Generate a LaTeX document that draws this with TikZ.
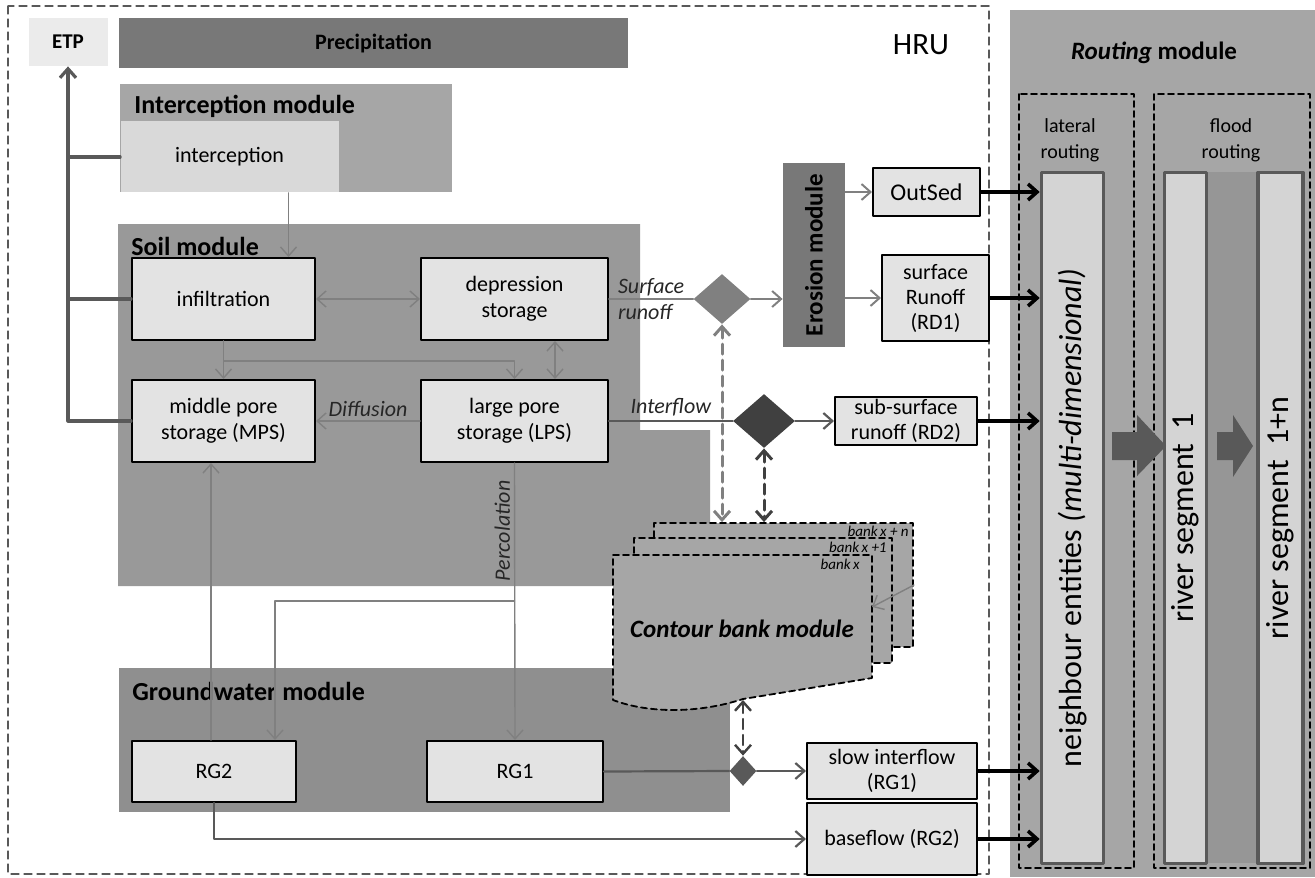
\documentclass[tikz,border=0pt]{standalone}
\usepackage{fontspec}
\setmainfont{Carlito}
\usepackage{tikz}
\usetikzlibrary{arrows.meta,shapes.geometric}
\definecolor{xexexe}{rgb}{0.89,0.89,0.89}
\definecolor{ebebeb}{rgb}{0.92,0.92,0.92}
\definecolor{dadada}{rgb}{0.85,0.85,0.85}
\definecolor{dbdbdb}{rgb}{0.83,0.83,0.83}
\definecolor{aaaaaa}{rgb}{0.65,0.65,0.65}
\definecolor{rtrtrt}{rgb}{0.59,0.59,0.59}
\definecolor{qaqaqa}{rgb}{0.6,0.6,0.6}
\definecolor{wqwqwq}{rgb}{0.56,0.56,0.56}
\definecolor{sqsqsq}{rgb}{0.5,0.5,0.5}
\definecolor{uuuuuu}{rgb}{0.47,0.47,0.47}
\definecolor{zlzlzl}{rgb}{0.35,0.35,0.35}
\definecolor{tttttt}{rgb}{0.25,0.25,0.25}
\definecolor{qqqqqq}{rgb}{0.15,0.15,0.15}

\begin{document}
\begin{tikzpicture}[line cap=round,line join=round,>={Straight Barb[length=4.5pt,width=8pt]},x=0.5pt,y=-0.5pt,
box/.style={draw=black,line width=1pt,fill=xexexe,align=center,inner sep=0.5pt,font=\fontsize{11}{13}\selectfont},
rbox/.style={box,font=\fontsize{11}{12.5}\selectfont},
title/.style={anchor=west,inner sep=0pt,font=\bfseries\fontsize{13}{15}\selectfont},
lbl/.style={text=qqqqqq,font=\itshape\fontsize{11}{13}\selectfont,inner sep=2pt},
banklbl/.style={anchor=north east,inner sep=1pt,font=\itshape\fontsize{7.5}{9}\selectfont},
flow/.style={color=sqsqsq,line width=0.7pt},
darkflow/.style={color=zlzlzl,line width=1.1pt},
etpline/.style={color=zlzlzl,line width=1.6pt},
outflow/.style={color=black,line width=1.8pt,->},
dashflow/.style={color=sqsqsq,line width=1.5pt,dash pattern=on 5pt off 3pt,<->},
bank/.style={fill=aaaaaa,draw=black,line width=0.9pt,dash pattern=on 3pt off 2pt},
seg/.style={rotate=90,draw=zlzlzl,line width=1.8pt,fill=dbdbdb,inner sep=0.5pt,minimum width=345.5pt,font=\fontsize{16}{18}\selectfont}]
\useasboundingbox (0,0) rectangle (1315,877);

% HRU frame and routing background
\draw [color=zlzlzl,line width=0.6pt,dash pattern=on 4pt off 2.5pt] (8,6) rectangle (989,874);
\node[font=\fontsize{15.5}{18}\selectfont] (hru) at (921,45) {HRU};
\fill [color=aaaaaa] (1010,10) rectangle (1315,877);

% modules
\node[fill=ebebeb,minimum width=39.5pt,minimum height=24pt,font=\bfseries\fontsize{10.5}{12}\selectfont] (etp) at (68,42) {ETP};
\node[fill=uuuuuu,minimum width=254.5pt,minimum height=25pt,font=\bfseries\fontsize{11}{12}\selectfont] (prec) at (373.5,43) {Precipitation};
\fill [color=aaaaaa] (120,84) rectangle (452,192);
\node[title] (inttitle) at (134,106) {Interception module};
\node[fill=dadada,minimum width=109pt,minimum height=35.5pt,font=\fontsize{11}{12}\selectfont] (interc) at (229.5,157) {interception};
\fill [color=qaqaqa] (118,224) -- (640,224) -- (640,430) -- (710,430) -- (710,586) -- (118,586) -- cycle;
\node[title] (soiltitle) at (131,246) {Soil module};
\fill [color=wqwqwq] (119,668) rectangle (730,812);
\node[title] (gwtitle) at (132,691) {Groundwater module};
\node[rotate=90,fill=uuuuuu,minimum width=92pt,minimum height=31pt,font=\bfseries\fontsize{12.5}{14}\selectfont] (ero) at (814,255) {Erosion module};

% contour banks
\node[bank,minimum width=129.5pt,minimum height=62pt] (bankn) at (783.5,585) {};
\node[bank,minimum width=129pt,minimum height=62.5pt] (bank1) at (763,600.5) {};
\filldraw [bank] (613,555) -- (872,555) -- (872,678) -- (743,699) .. controls (700,713) and (650,714) .. (613,700) -- cycle;
\coordinate (bankbot) at (743,700);
\coordinate (bankxr) at (872,607);
\node[banklbl] (lbn) at (911,524) {bank\,x + n};
\node[banklbl] (lb1) at (889,540) {bank\,x +1};
\node[banklbl] (lbx) at (862,557) {bank\,x};
\node[font=\bfseries\itshape\fontsize{12.5}{14}\selectfont] (cbm) at (742,629) {Contour bank module};

% storages
\node[box,minimum width=91.5pt,minimum height=41pt] (infil) at (223.5,299) {infiltration};
\node[box,minimum width=93.5pt,minimum height=41pt] (depr) at (514.5,299) {depression\\storage};
\node[box,minimum width=91.5pt,minimum height=41pt] (mps) at (223.5,421) {middle pore\\storage (MPS)};
\node[box,minimum width=93.5pt,minimum height=41pt] (lps) at (514.5,421) {large pore\\storage (LPS)};
\node[box,minimum width=82pt,minimum height=30.5pt] (rg2) at (214,771.5) {RG2};
\node[box,minimum width=88pt,minimum height=30.5pt] (rg1) at (515,771.5) {RG1};

\node[diamond,fill=sqsqsq,inner sep=0pt,minimum width=28.5pt,minimum height=25pt] (dsurf) at (722,299) {};
\node[diamond,fill=tttttt,inner sep=0pt,minimum width=31pt,minimum height=27pt] (dinter) at (764,421) {};
\node[diamond,fill=zlzlzl,inner sep=0pt,minimum width=13.5pt,minimum height=15pt] (dslow) at (743,771) {};

\node[rbox,font=\fontsize{12}{14}\selectfont,minimum width=53.5pt,minimum height=24pt] (outsed) at (926.5,192) {OutSed};
\node[rbox,minimum width=53.5pt,minimum height=43pt] (rd1) at (935.5,298) {surface\\Runoff\\(RD1)};
\node[rbox,minimum width=71pt,minimum height=24pt] (rd2) at (906,421) {sub-surface\\runoff (RD2)};
\node[rbox,minimum width=85pt,minimum height=28pt] (slow) at (892,771) {slow interflow\\(RG1)};
\node[rbox,minimum width=85pt,minimum height=36pt] (base) at (892,839) {baseflow (RG2)};

% routing module
\node[font=\bfseries\fontsize{12.5}{14}\selectfont] (rtitle) at (1154,53) {\textit{Routing} module};
\draw [color=black,line width=0.9pt,dash pattern=on 3pt off 2pt] (1019,94) rectangle (1134,868);
\draw [color=black,line width=0.9pt,dash pattern=on 3pt off 2pt] (1154,94) rectangle (1310,868);
\fill [color=rtrtrt] (1207,172) rectangle (1258,863);
\node[align=center,font=\fontsize{10}{13}\selectfont] (latlbl) at (1070,140) {lateral\\routing};
\node[align=center,font=\fontsize{10}{13}\selectfont] (floodlbl) at (1231,140) {flood\\routing};
\node[seg,minimum height=31pt] (ne) at (1072.5,518) {neighbour entities \textit{(multi-dimensional)}};
\node[seg,minimum height=21pt] (rs1) at (1185.5,518) {river segment\ \ 1};
\node[seg,minimum height=22.5pt] (rsn) at (1280.5,518) {river segment\ \ 1+n};
\fill [color=zlzlzl] (1112,432) -- (1137,432) -- (1137,415) -- (1166,446) -- (1137,476) -- (1137,460) -- (1112,460) -- cycle;
\fill [color=zlzlzl] (1217,432) -- (1233,432) -- (1233,415) -- (1253,446) -- (1233,477) -- (1233,460) -- (1217,460) -- cycle;

% evapotranspiration
\draw [etpline,->] (mps.west) -| (etp.south);
\draw [etpline] (infil.west) -- (infil.west -| etp.south);
\draw [etpline] (interc.west) -- (interc.west -| etp.south);

% soil fluxes
\draw [flow,->] ([xshift=29.5pt]interc.south) -- ([xshift=29.5pt]interc.south |- infil.north);
\draw [flow,<->] (infil.east) -- (depr.west);
\draw [flow,->] (infil.south) -- (mps.north);
\draw [flow,->] (infil.south) -- ++(0,20) -| (lps.north);
\draw [flow,<->] ([xshift=20.25pt]depr.south) -- ([xshift=20.25pt]lps.north);
\draw [flow,->] (lps.west) -- node[above,lbl] {Diffusion} (mps.east);
\draw [flow,->] (lps.south) -- node[pos=0.245,rotate=90,anchor=south,lbl] {Percolation} (rg1.north);
\coordinate (perc) at (514.5,601);
\draw [flow,->] (perc) -| ([xshift=30.5pt]rg2.north);
\draw [flow,->] ([xshift=-6.25pt]mps.south |- rg2.north) -- ([xshift=-6.25pt]mps.south);

% runoff components
\draw [flow,line width=1pt] (depr.east) -- node[lbl,align=left] {Surface\\runoff} (dsurf.west);
\draw [flow,line width=1pt,->] (dsurf.east) -- (dsurf.east -| ero.north);
\draw [flow,line width=1pt,->] (ero.south |- outsed.west) -- (outsed.west);
\draw [flow,line width=1pt,->] (ero.south |- rd1.west) -- (rd1.west);
\draw [darkflow] (lps.east) -- node[above,lbl] {Interflow} (dinter.west);
\draw [darkflow,->] (dinter.east) -- (rd2.west);
\draw [darkflow] (rg1.east) -- (dslow.west);
\draw [darkflow,->] (dslow.east) -- (slow.west);
\draw [darkflow,->] (rg2.south) |- (base.west);
\draw [dashflow] (dsurf.south) -- (dsurf.south |- bankn.north);
\draw [dashflow,color=tttttt] (dinter.south) -- (dinter.south |- bankn.north);
\draw [dashflow,color=tttttt,line width=1.2pt] (bankbot) -- (dslow.north);
\draw [flow,->] (bankn.east) -- (bankxr);

% to routing
\draw [outflow] (outsed.east) -- (outsed.east -| ne.north);
\draw [outflow] (rd1.east) -- (rd1.east -| ne.north);
\draw [outflow] (rd2.east) -- (rd2.east -| ne.north);
\draw [outflow] (slow.east) -- (slow.east -| ne.north);
\draw [outflow] (base.east) -- (base.east -| ne.north);
\end{tikzpicture}
\end{document}
